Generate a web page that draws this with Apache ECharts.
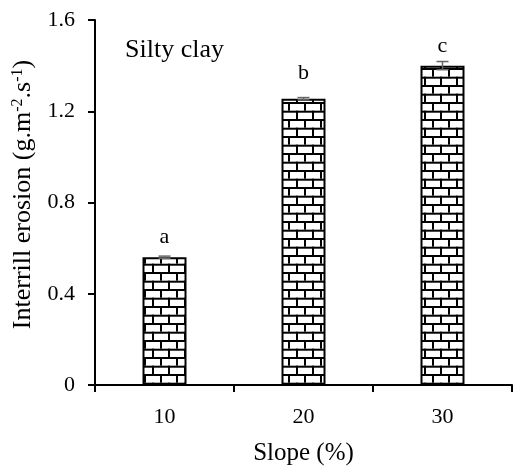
<!DOCTYPE html>
<html><head><meta charset="utf-8">
<script src="https://cdn.jsdelivr.net/npm/echarts@6/dist/echarts.min.js"></script>
<style>html,body{margin:0;padding:0;background:#fff}#c{width:513px;height:471px}</style>
</head><body><div id="c"></div>
<script>
const categories = ['10', '20', '30'];
const values = [0.56, 1.255, 1.40];
const errors = [0.005, 0.005, 0.018];
const letters = ['a', 'b', 'c'];
const yTicks = [0, 0.4, 0.8, 1.2, 1.6];

function brick() {
  const w = 16, h = 17.4;
  const c = document.createElement('canvas');
  c.width = w; c.height = h;
  const g = c.getContext('2d');
  g.fillStyle = '#fff'; g.fillRect(0, 0, w, h);
  g.fillStyle = '#000';
  g.fillRect(0, 0, w, 2);
  g.fillRect(0, h / 2, w, 2);
  g.fillRect(0, 0, 2, h / 2);
  g.fillRect(w / 2, h / 2, 2, h / 2);
  return c;
}

const chart = echarts.init(document.getElementById('c'));
const font = '"Liberation Serif", "Times New Roman", serif';
const labelDist = [9, 14, 8];
chart.setOption({
  animation: false,
  textStyle: { fontFamily: font },
  grid: { left: 95, right: 1, top: 20, bottom: 85 },
  graphic: [{ type: 'text', left: 125, top: 37, style: { text: 'Silty clay', font: '26px ' + font, fill: '#000' } }],
  xAxis: {
    type: 'category', data: categories,
    name: 'Slope (%)', nameLocation: 'middle', nameGap: 56,
    nameTextStyle: { fontSize: 25, color: '#000', fontFamily: font },
    axisLine: { lineStyle: { color: '#000', width: 2 } },
    axisTick: { show: true, length: 7, lineStyle: { color: '#000', width: 2 } },
    axisLabel: { fontSize: 22, color: '#000', margin: 21, fontFamily: font }
  },
  yAxis: {
    type: 'value', min: 0, max: 1.6, interval: 0.4,
    name: '{m|Interrill erosion (g.m}{s|-2}{m|.s}{s|-1}{m|)}', nameLocation: 'middle', nameGap: 52, nameRotate: 90,
    nameTextStyle: { padding: [0, 0, 0, 16], rich: { m: { fontSize: 26, color: '#000', fontFamily: font, lineHeight: 28 }, s: { fontSize: 16, color: '#000', fontFamily: font, verticalAlign: 'top', lineHeight: 28 } } },
    splitLine: { show: false },
    axisLine: { show: true, lineStyle: { color: '#000', width: 2 } },
    axisTick: { show: true, length: 7, lineStyle: { color: '#000', width: 2 } },
    axisLabel: { fontSize: 22, color: '#000', margin: 20, fontFamily: font, formatter: v => yTicks.includes(+v.toFixed(1)) ? String(+v.toFixed(1)) : '' }
  },
  series: [{
    type: 'bar', barWidth: 44,
    data: values.map((v, i) => ({ value: v, label: { distance: labelDist[i] } })),
    itemStyle: { color: { image: brick(), repeat: 'repeat' }, borderColor: '#000', borderWidth: 2 },
    label: { show: true, position: 'top', fontSize: 22, color: '#000', fontFamily: font, formatter: p => letters[p.dataIndex] }
  }, {
    type: 'custom', z: 10,
    data: values.map((v, i) => [i, v - errors[i], v + errors[i]]),
    renderItem: (params, api) => {
      const lo = api.coord([api.value(0), api.value(1)]);
      const hi = api.coord([api.value(0), api.value(2)]);
      const hw = 6;
      const st = { stroke: '#666', lineWidth: 1.5 };
      return { type: 'group', children: [
        { type: 'line', shape: { x1: lo[0], y1: lo[1], x2: hi[0], y2: hi[1] }, style: st },
        { type: 'line', shape: { x1: lo[0] - hw, y1: lo[1], x2: lo[0] + hw, y2: lo[1] }, style: st },
        { type: 'line', shape: { x1: hi[0] - hw, y1: hi[1], x2: hi[0] + hw, y2: hi[1] }, style: st }
      ]};
    }
  }]
});
</script></body></html>
